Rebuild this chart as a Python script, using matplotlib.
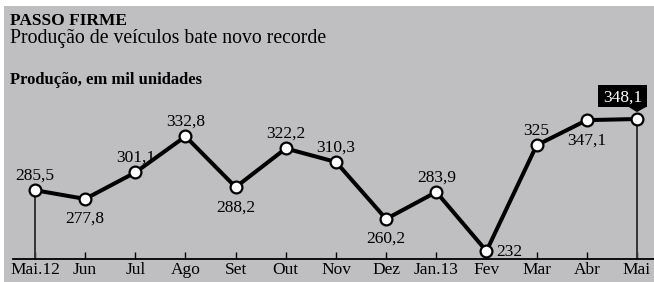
import matplotlib
matplotlib.use("Agg")
import matplotlib.pyplot as plt
from matplotlib.patches import Rectangle, Polygon
from matplotlib.transforms import Affine2D, ScaledTranslation

months = ["Mai.12", "Jun", "Jul", "Ago", "Set", "Out", "Nov", "Dez", "Jan.13", "Fev", "Mar", "Abr", "Mai"]
values = [285.5, 277.8, 301.1, 332.8, 288.2, 322.2, 310.3, 260.2, 283.9, 232, 325, 347.1, 348.1]
labels = ["285,5", "277,8", "301,1", "332,8", "288,2", "322,2", "310,3", "260,2", "283,9", "232", "325", "347,1", "348,1"]
# label placement: 'a' above, 'b' below, 'r' right, 'box' highlighted
placement = ["a", "b", "a", "a", "b", "a", "a", "b", "a", "r", "a", "b", "box"]

W, H = 654, 282
plt.rcParams["font.family"] = ["Liberation Serif", "DejaVu Serif"]
fig = plt.figure(figsize=(W / 100, H / 100), dpi=100)
fig.patch.set_facecolor("white")
bg = "#bfbfc1"
fig.patches.append(Rectangle((4 / W, 0), 1, 1 - 6 / H, transform=fig.transFigure,
                             facecolor=bg, edgecolor="none", zorder=-10))

fig.text(10 / W, 1 - 25 / H, "PASSO FIRME", fontsize=12.5, fontweight="bold", va="baseline")
fig.text(10 / W, 1 - 43 / H, "Produção de veículos bate novo recorde", fontsize=14.2, va="baseline")
fig.text(10 / W, 1 - 84 / H, "Produção, em mil unidades", fontsize=12, fontweight="bold", va="baseline")

left, right = 13 / W, 1.0
bottom, top = (H - 259) / H, (H - 90) / H
ax = fig.add_axes([left, bottom, right - left, top - bottom])
ax.set_facecolor("none")
x = list(range(len(values)))
ax.set_xlim(-0.4385, 12.34)
ax.set_ylim(225.0, 373.6)

ax.plot(x, values, color="black", lw=2.9, zorder=3, solid_joinstyle="miter")
ax.plot(x, values, ls="none", marker="o", ms=8.5, mfc="white", mec="black", mew=1.6, zorder=4)
for i in (0, len(values) - 1):
    ax.plot([x[i], x[i]], [225.0, values[i]], color="#333333", lw=1.4, zorder=2)

fs = 12.5
pt = Affine2D().scale(1 / 72) + fig.dpi_scale_trans
for xi, v, lab, p in zip(x, values, labels, placement):
    if p == "a":
        ax.annotate(lab, (xi, v), xytext=(0, 7.5), textcoords="offset points",
                    ha="center", va="baseline", fontsize=fs)
    elif p == "b":
        ax.annotate(lab, (xi, v), xytext=(0, -17.3), textcoords="offset points",
                    ha="center", va="baseline", fontsize=fs)
    elif p == "r":
        ax.annotate(lab, (xi, v), xytext=(7, -3.6), textcoords="offset points",
                    ha="left", va="baseline", fontsize=fs)
    else:
        anchor = pt + ScaledTranslation(xi, v, ax.transData)
        box = Polygon([(-28, 8.6), (7.2, 8.6), (7.2, 24.5), (-28, 24.5)], closed=True,
                      facecolor="black", edgecolor="none", transform=anchor, zorder=5,
                      clip_on=False)
        tri = Polygon([(-6.5, 9), (7.2, 9), (0, 5)], closed=True, facecolor="black",
                      edgecolor="none", transform=anchor, zorder=5, clip_on=False)
        ax.add_patch(box)
        ax.add_patch(tri)
        ax.annotate(lab, (xi, v), xytext=(-10.4, 12.2), textcoords="offset points",
                    ha="center", va="baseline", fontsize=fs, color="white", zorder=6)

for s in ("left", "right", "top"):
    ax.spines[s].set_visible(False)
ax.spines["bottom"].set_linewidth(1.3)
ax.set_yticks([])
ax.set_xticks(x)
ax.set_xticklabels(months, fontsize=fs)
ax.tick_params(axis="x", direction="in", length=5, width=1, pad=2, color="black")

fig.savefig("out.png", dpi=100, facecolor="white")
